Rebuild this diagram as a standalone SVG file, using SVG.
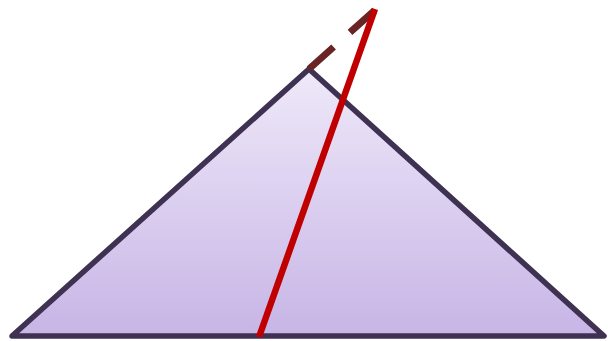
<svg xmlns="http://www.w3.org/2000/svg" width="608" height="341" viewBox="0 0 608 341">
<defs>
<linearGradient id="g" x1="0" y1="0" x2="0" y2="1">
<stop offset="0" stop-color="#efe9f9"/>
<stop offset="1" stop-color="#c7b5e6"/>
</linearGradient>
</defs>
<style>
.tri{fill:url(#g);stroke:#3f3151;stroke-width:5.5;stroke-linejoin:round}
.ext{stroke:#6a2424;stroke-width:7;stroke-dasharray:33 22;fill:none}
.cut{stroke:#c00000;stroke-width:6.5;fill:none}
</style>
<g id="triangle"><polygon class="tri" points="12,336 309,69 604,336"/></g>
<g id="connectors">
<line class="ext" x1="309" y1="69" x2="375" y2="10"/>
<line class="cut" x1="259" y1="337" x2="375" y2="9"/>
</g>
</svg>
